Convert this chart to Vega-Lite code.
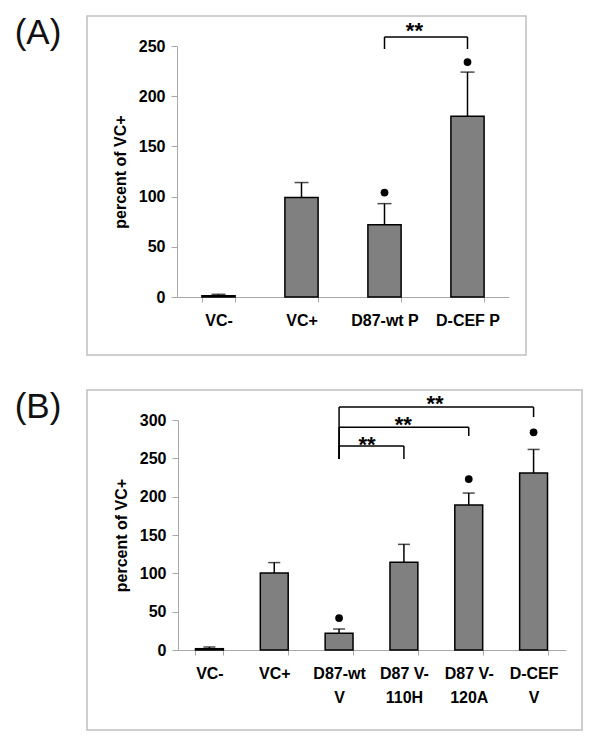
{
  "$schema": "https://vega.github.io/schema/vega-lite/v6.json",
  "padding": {"left": 13, "top": 15, "right": 18, "bottom": 17},
  "spacing": 33,
  "config": {
    "font": "Liberation Sans",
    "view": {"stroke": "#c0c0c0", "strokeWidth": 1.5},
    "axis": {
      "labelFont": "Liberation Sans", "labelFontWeight": "bold", "labelFontSize": 16, "labelColor": "#000",
      "titleFont": "Liberation Sans", "titleFontWeight": "bold", "titleFontSize": 16, "titleColor": "#000",
      "domainColor": "#a8a8a8", "tickColor": "#a8a8a8", "grid": false
    }
  },
  "datasets": {
    "a": [
      {"cat": "VC-", "value": 1.3, "upper": 2.7, "dot": null},
      {"cat": "VC+", "value": 99, "upper": 114, "dot": null},
      {"cat": "D87-wt P", "value": 72, "upper": 93, "dot": 104},
      {"cat": "D-CEF P", "value": 180, "upper": 224, "dot": 234}
    ],
    "ba": [
      {"from": 2.5, "to": 3.5, "level": 259, "leftEnd": 247, "rightEnd": 247, "label": "**", "labelX": 2.86, "labelY": 264.5}
    ],
    "b": [
      {"cat": "VC-", "value": 1.7, "upper": 3.9, "dot": null},
      {"cat": "VC+", "value": 100.4, "upper": 114, "dot": null},
      {"cat": "D87-wt V", "value": 21.7, "upper": 27.4, "dot": 41.7},
      {"cat": "D87 V-110H", "value": 114.3, "upper": 137.8, "dot": null},
      {"cat": "D87 V-120A", "value": 189, "upper": 204.7, "dot": 223},
      {"cat": "D-CEF V", "value": 230.8, "upper": 261.6, "dot": 284}
    ],
    "bb": [
      {"from": 2.5, "to": 3.5, "level": 266, "leftEnd": 249, "rightEnd": 249, "label": "**", "labelX": 2.93, "labelY": 267},
      {"from": 2.5, "to": 4.5, "level": 290.7, "leftEnd": 249, "rightEnd": 279, "label": "**", "labelX": 3.49, "labelY": 293},
      {"from": 2.5, "to": 5.5, "level": 316.8, "leftEnd": 249, "rightEnd": 303.8, "label": "**", "labelX": 3.98, "labelY": 320.5}
    ]
  },
  "vconcat": [
    {
      "width": 439,
      "height": 339,
      "title": {"text": "(A)", "orient": "left", "anchor": "end", "angle": 0, "align": "right", "baseline": "top", "offset": -21, "fontSize": 35, "fontWeight": "normal", "color": "#111", "font": "Liberation Sans"},
      "layer": [
        {
          "data": {"name": "a"},
          "layer": [
            {
              "mark": {"type": "bar", "fill": "#808080", "stroke": "#000", "strokeWidth": 1.5},
              "encoding": {
                "x": {"field": "cat", "type": "nominal", "sort": null, "title": null,
                      "scale": {"range": [90, 422], "paddingInner": 0.6, "paddingOuter": 0.3},
                      "axis": {"orient": "bottom", "offset": -58, "labelAngle": 0, "tickBand": "extent", "tickSize": 5, "labelPadding": 10}},
                "y": {"field": "value", "type": "quantitative", "title": "percent of VC+",
                      "scale": {"domain": [0, 250], "range": [281, 30], "nice": false},
                      "axis": {"orient": "left", "offset": -90, "values": [0, 50, 100, 150, 200, 250], "tickSize": 6, "labelPadding": 6, "titlePadding": 10}}
              }
            },
            {
              "mark": {"type": "rule", "strokeWidth": 1.5, "color": "#000"},
              "encoding": {
                "x": {"field": "cat", "type": "nominal", "sort": null, "title": null},
                "y": {"field": "value", "type": "quantitative", "title": "percent of VC+"},
                "y2": {"field": "upper"}
              }
            },
            {
              "mark": {"type": "tick", "size": 14, "thickness": 1.5, "color": "#000"},
              "encoding": {
                "x": {"field": "cat", "type": "nominal", "sort": null, "title": null},
                "y": {"field": "upper", "type": "quantitative", "title": "percent of VC+"}
              }
            },
            {
              "transform": [{"filter": "datum.dot != null"}],
              "mark": {"type": "point", "filled": true, "color": "#000", "size": 60, "opacity": 1},
              "encoding": {
                "x": {"field": "cat", "type": "nominal", "sort": null, "title": null},
                "y": {"field": "dot", "type": "quantitative", "title": "percent of VC+"}
              }
            }
          ]
        },
        {
          "data": {"name": "ba"},
          "layer": [
            {
              "mark": {"type": "rule", "strokeWidth": 1.5, "color": "#000"},
              "encoding": {
                "x": {"field": "from", "type": "quantitative", "scale": {"domain": [0, 4], "range": [90, 422], "nice": false, "zero": false}, "axis": null},
                "x2": {"field": "to"},
                "y": {"field": "level", "type": "quantitative", "title": "percent of VC+"}
              }
            },
            {
              "mark": {"type": "rule", "strokeWidth": 1.5, "color": "#000"},
              "encoding": {
                "x": {"field": "from", "type": "quantitative", "axis": null},
                "y": {"field": "leftEnd", "type": "quantitative", "title": "percent of VC+"},
                "y2": {"field": "level"}
              }
            },
            {
              "mark": {"type": "rule", "strokeWidth": 1.5, "color": "#000"},
              "encoding": {
                "x": {"field": "to", "type": "quantitative", "axis": null},
                "y": {"field": "rightEnd", "type": "quantitative", "title": "percent of VC+"},
                "y2": {"field": "level"}
              }
            },
            {
              "mark": {"type": "text", "fontSize": 22, "fontWeight": "bold", "baseline": "middle", "align": "center", "color": "#000"},
              "encoding": {
                "x": {"field": "labelX", "type": "quantitative", "axis": null},
                "y": {"field": "labelY", "type": "quantitative", "title": "percent of VC+"},
                "text": {"field": "label"}
              }
            }
          ]
        }
      ],
      "resolve": {"scale": {"x": "independent"}, "axis": {"x": "independent"}}
    },
    {
      "width": 495,
      "height": 340,
      "title": {"text": "(B)", "orient": "left", "anchor": "end", "angle": 0, "align": "right", "baseline": "top", "offset": -21, "fontSize": 35, "fontWeight": "normal", "color": "#111", "font": "Liberation Sans"},
      "layer": [
        {
          "data": {"name": "b"},
          "layer": [
            {
              "mark": {"type": "bar", "fill": "#808080", "stroke": "#000", "strokeWidth": 1.5},
              "encoding": {
                "x": {"field": "cat", "type": "nominal", "sort": null, "title": null,
                      "scale": {"range": [90, 479], "paddingInner": 0.57, "paddingOuter": 0.285},
                      "axis": {"orient": "bottom", "offset": -80, "labelAngle": 0, "tickBand": "extent", "tickSize": 5, "labelPadding": 10, "labelLineHeight": 24,
                               "labelExpr": "indexof(datum.label, 'V-') > 0 ? [slice(datum.label, 0, indexof(datum.label, 'V-') + 2), slice(datum.label, indexof(datum.label, 'V-') + 2)] : split(datum.label, ' ')"}},
                "y": {"field": "value", "type": "quantitative", "title": "percent of VC+",
                      "scale": {"domain": [0, 300], "range": [260, 30], "nice": false},
                      "axis": {"orient": "left", "offset": -91, "values": [0, 50, 100, 150, 200, 250, 300], "tickSize": 6, "labelPadding": 6, "titlePadding": 10}}
              }
            },
            {
              "mark": {"type": "rule", "strokeWidth": 1.5, "color": "#000"},
              "encoding": {
                "x": {"field": "cat", "type": "nominal", "sort": null, "title": null},
                "y": {"field": "value", "type": "quantitative", "title": "percent of VC+"},
                "y2": {"field": "upper"}
              }
            },
            {
              "mark": {"type": "tick", "size": 12, "thickness": 1.5, "color": "#000"},
              "encoding": {
                "x": {"field": "cat", "type": "nominal", "sort": null, "title": null},
                "y": {"field": "upper", "type": "quantitative", "title": "percent of VC+"}
              }
            },
            {
              "transform": [{"filter": "datum.dot != null"}],
              "mark": {"type": "point", "filled": true, "color": "#000", "size": 60, "opacity": 1},
              "encoding": {
                "x": {"field": "cat", "type": "nominal", "sort": null, "title": null},
                "y": {"field": "dot", "type": "quantitative", "title": "percent of VC+"}
              }
            }
          ]
        },
        {
          "data": {"name": "bb"},
          "layer": [
            {
              "mark": {"type": "rule", "strokeWidth": 1.5, "color": "#000"},
              "encoding": {
                "x": {"field": "from", "type": "quantitative", "scale": {"domain": [0, 6], "range": [90, 479], "nice": false, "zero": false}, "axis": null},
                "x2": {"field": "to"},
                "y": {"field": "level", "type": "quantitative", "title": "percent of VC+"}
              }
            },
            {
              "mark": {"type": "rule", "strokeWidth": 1.5, "color": "#000"},
              "encoding": {
                "x": {"field": "from", "type": "quantitative", "axis": null},
                "y": {"field": "leftEnd", "type": "quantitative", "title": "percent of VC+"},
                "y2": {"field": "level"}
              }
            },
            {
              "mark": {"type": "rule", "strokeWidth": 1.5, "color": "#000"},
              "encoding": {
                "x": {"field": "to", "type": "quantitative", "axis": null},
                "y": {"field": "rightEnd", "type": "quantitative", "title": "percent of VC+"},
                "y2": {"field": "level"}
              }
            },
            {
              "mark": {"type": "text", "fontSize": 22, "fontWeight": "bold", "baseline": "middle", "align": "center", "color": "#000"},
              "encoding": {
                "x": {"field": "labelX", "type": "quantitative", "axis": null},
                "y": {"field": "labelY", "type": "quantitative", "title": "percent of VC+"},
                "text": {"field": "label"}
              }
            }
          ]
        }
      ],
      "resolve": {"scale": {"x": "independent"}, "axis": {"x": "independent"}}
    }
  ]
}
